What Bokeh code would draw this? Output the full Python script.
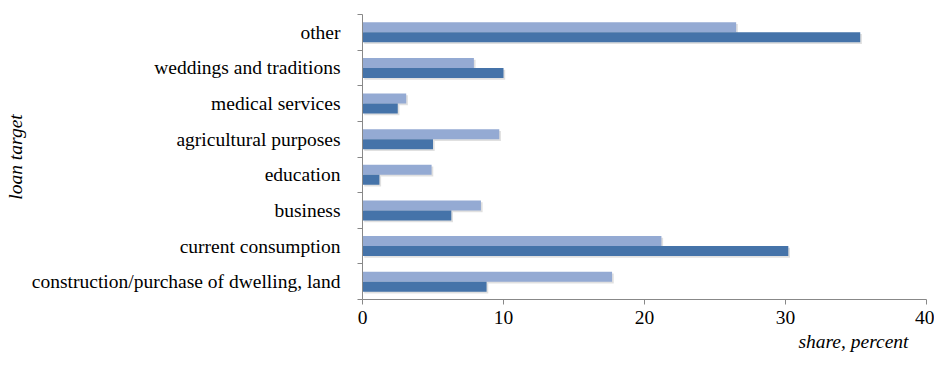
from bokeh.plotting import figure
from bokeh.models import (Range1d, FixedTicker, CustomJSTickFormatter, Legend,
                          LegendItem, Title, ColumnDataSource)
from bokeh.embed import file_html
from bokeh.resources import INLINE

# Loan targets, bottom to top
categories = [
    "construction/purchase of dwelling, land",
    "current consumption",
    "business",
    "education",
    "agricultural purposes",
    "medical services",
    "weddings and traditions",
    "other",
]
man = [17.7, 21.2, 8.4, 4.9, 9.7, 3.1, 7.9, 26.5]
woman = [8.8, 30.2, 6.3, 1.2, 5.0, 2.5, 10.0, 35.3]
x_ticks = [0, 10, 20, 30, 40]

MAN_COLOR = "#94aad3"
WOMAN_COLOR = "#4573a9"
FONT = "Liberation Serif"
FS = "19.5px"
BAR_H = 0.28

pos = [i + 0.5 for i in range(len(categories))]
src = ColumnDataSource(dict(
    man=man, woman=woman,
    y_man=[p + BAR_H / 2 for p in pos],
    y_woman=[p - BAR_H / 2 for p in pos],
    y_man_sh=[p + BAR_H / 2 - 0.05 for p in pos],
    y_woman_sh=[p - BAR_H / 2 - 0.05 for p in pos],
    man_sh=[v + 0.12 for v in man],
    woman_sh=[v + 0.12 for v in woman],
))

p = figure(width=934, height=382, frame_width=564, frame_height=285,
           output_backend="svg", toolbar_location=None,
           x_range=Range1d(0, 40), y_range=Range1d(0, len(categories)),
           min_border_left=362, min_border_right=8, min_border_top=14,
           min_border_bottom=0)
p.outline_line_color = None
p.grid.visible = False
p.background_fill_color = "white"
p.border_fill_color = "white"

# soft drop shadows under the bars
p.hbar(y="y_man_sh", right="man_sh", left=0.12, height=BAR_H, source=src,
       fill_color="#000000", fill_alpha=0.12, line_color=None)
p.hbar(y="y_woman_sh", right="woman_sh", left=0.12, height=BAR_H, source=src,
       fill_color="#000000", fill_alpha=0.12, line_color=None)

r_man = p.hbar(y="y_man", right="man", left=0, height=BAR_H, source=src,
               fill_color=MAN_COLOR, line_color=None)
r_woman = p.hbar(y="y_woman", right="woman", left=0, height=BAR_H, source=src,
                 fill_color=WOMAN_COLOR, line_color=None)

# x axis
xa = p.xaxis[0]
xa.ticker = FixedTicker(ticks=x_ticks, minor_ticks=[])
xa.axis_line_color = "#888888"
xa.major_tick_line_color = "#888888"
xa.major_tick_out = 5
xa.major_tick_in = 0
xa.minor_tick_out = 0
xa.major_label_text_font = FONT
xa.major_label_text_font_size = FS
xa.major_label_text_color = "black"
xa.major_label_standoff = 6

# y axis: labels at band centres, ticks at band boundaries
ya = p.yaxis[0]
ya.ticker = FixedTicker(ticks=pos, minor_ticks=list(range(len(categories) + 1)))
ya.formatter = CustomJSTickFormatter(args=dict(names=categories),
                                     code="return names[Math.floor(tick)]")
ya.axis_line_color = "#888888"
ya.major_tick_out = 0
ya.major_tick_in = 0
ya.minor_tick_out = 5
ya.minor_tick_in = 0
ya.minor_tick_line_color = "#888888"
ya.major_label_text_font = FONT
ya.major_label_text_font_size = FS
ya.major_label_text_color = "black"
ya.major_label_standoff = 17
ya.axis_label = "loan target"
ya.axis_label_text_font = FONT
ya.axis_label_text_font_style = "italic"
ya.axis_label_text_font_size = FS
ya.axis_label_text_color = "black"
ya.axis_label_standoff = 3

p.add_layout(Title(text="share, percent", align="right", offset=18,
                   standoff=4,
                   text_font=FONT, text_font_style="italic",
                   text_font_size=FS, text_color="black"), "below")

legend = Legend(items=[LegendItem(label="man", renderers=[r_man]),
                       LegendItem(label="woman", renderers=[r_woman])],
                orientation="horizontal", location="center",
                label_text_font=FONT, label_text_font_size=FS,
                label_text_color="black", glyph_width=10, glyph_height=10,
                label_standoff=8, spacing=43, padding=0, margin=0,
                label_height=16,
                border_line_color=None, background_fill_alpha=0)
p.add_layout(legend, "below")

open("out.html", "w").write(file_html(p, INLINE))
